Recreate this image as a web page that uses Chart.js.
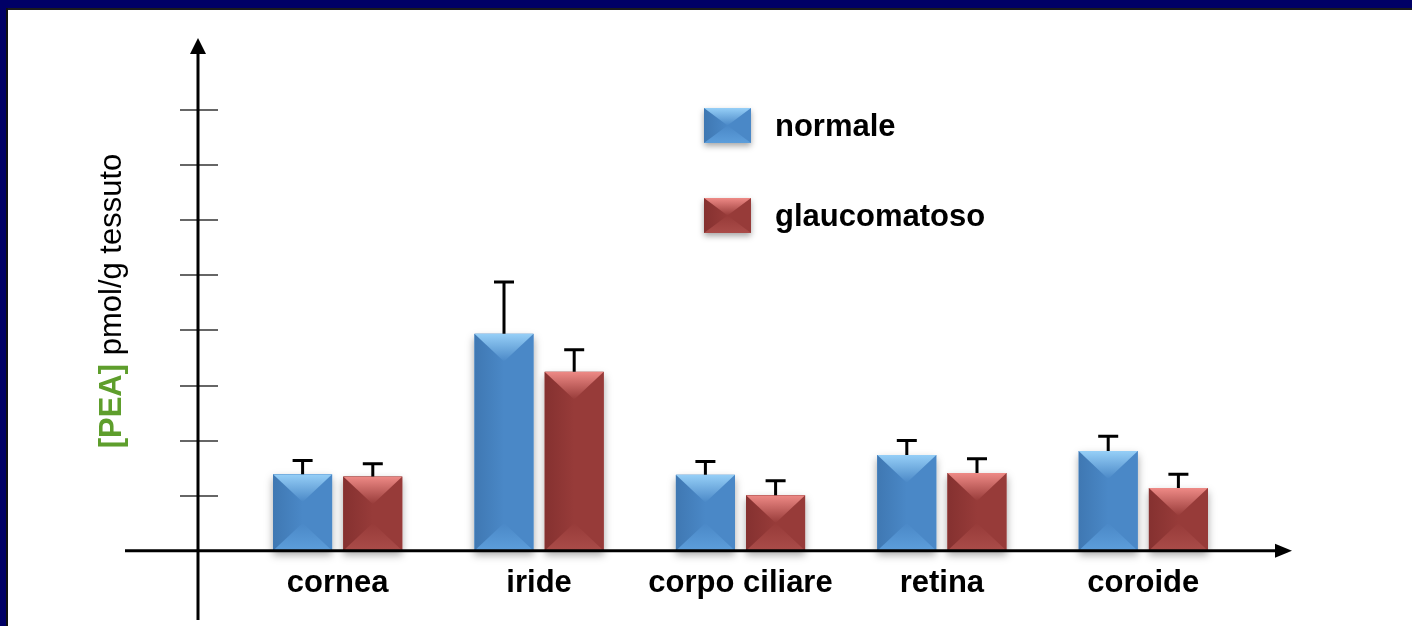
<!DOCTYPE html>
<html>
<head>
<meta charset="utf-8">
<script src="https://cdn.jsdelivr.net/npm/chart.js@4.4.1/dist/chart.umd.min.js"></script>
<style>
  html, body { margin: 0; padding: 0; background: #ffffff; overflow: hidden; }
  #wrap { position: absolute; left: 0; top: 0; width: 1412px; height: 626px; background: #ffffff; }
  .fr { position: absolute; pointer-events: none; }
</style>
</head>
<body>
<div id="wrap"><canvas id="c"></canvas></div>
<div class="fr" style="left:0;top:0;width:1412px;height:8px;background:#000066;"></div>
<div class="fr" style="left:6px;top:8px;width:1406px;height:2px;background:#1c1c1c;"></div>
<div class="fr" style="left:0;top:0;width:6px;height:626px;background:#000066;"></div>
<div class="fr" style="left:6px;top:8px;width:2px;height:618px;background:#111111;"></div>
<script>
// ---- data ----
const categories = ['cornea', 'iride', 'corpo ciliare', 'retina', 'coroide'];
const seriesNames = ['normale', 'glaucomatoso'];
const normale = [1.39, 3.94, 1.38, 1.74, 1.81];
const glaucomatoso = [1.35, 3.25, 1.01, 1.41, 1.14];
const errNormale = [0.25, 0.94, 0.24, 0.26, 0.27];
const errGlaucomatoso = [0.23, 0.40, 0.26, 0.26, 0.25];
const yMin = 0, yMax = 8, yStep = 1;
const yTitleBold = '[PEA]';
const yTitleRest = ' pmol/g tessuto';

// ---- styles ----
const FONT = '"Liberation Sans", Arial, Helvetica, sans-serif';
const palettes = [
  { base: '#4a88c7', dark: '#3e76b0', light: '#96cff7', bottom: '#5d9edb' },
  { base: '#973b39', dark: '#83302f', light: '#ee8a86', bottom: '#aa4c49' }
];
const errors = [errNormale, errGlaucomatoso];
const AXIS_X = 198;

function bevel(ctx, left, top, right, bottom, pal) {
  const w = right - left, h = bottom - top, cx = (left + right) / 2;
  if (h <= 0) return;
  ctx.save();
  ctx.beginPath(); ctx.rect(left, top, w, h); ctx.clip();
  ctx.fillStyle = pal.base; ctx.fillRect(left, top, w, h);
  const g1 = ctx.createLinearGradient(left, 0, cx, 0);
  g1.addColorStop(0, pal.dark); g1.addColorStop(1, pal.base);
  ctx.globalAlpha = 0.9;
  ctx.fillStyle = g1; ctx.fillRect(left, top, w / 2, h);
  ctx.globalAlpha = 1;
  const d = Math.min(w * 0.47, h * 0.5);
  const g3 = ctx.createLinearGradient(0, bottom - d, 0, bottom);
  g3.addColorStop(0, pal.base); g3.addColorStop(1, pal.bottom);
  ctx.beginPath(); ctx.moveTo(left, bottom); ctx.lineTo(right, bottom); ctx.lineTo(cx, bottom - d); ctx.closePath();
  ctx.fillStyle = g3; ctx.fill();
  const g2 = ctx.createLinearGradient(0, top, 0, top + d);
  g2.addColorStop(0, pal.light); g2.addColorStop(1, pal.base);
  ctx.beginPath(); ctx.moveTo(left, top); ctx.lineTo(right, top); ctx.lineTo(cx, top + d); ctx.closePath();
  ctx.fillStyle = g2; ctx.fill();
  ctx.restore();
}

const decoPlugin = {
  id: 'deco',
  beforeDatasetsDraw(chart) {
    const ctx = chart.ctx;
    ctx.save();
    chart.data.datasets.forEach((ds, di) => {
      chart.getDatasetMeta(di).data.forEach(el => {
        const p = el.getProps(['x', 'y', 'base', 'width'], true);
        ctx.shadowColor = 'rgba(0,0,0,0.35)';
        ctx.shadowBlur = 8; ctx.shadowOffsetY = 4;
        ctx.fillStyle = '#ffffff';
        ctx.fillRect(p.x - p.width / 2, p.y, p.width, p.base - p.y);
      });
    });
    ctx.restore();
  },
  afterDatasetsDraw(chart) {
    const ctx = chart.ctx;
    const ys = chart.scales.y;
    chart.data.datasets.forEach((ds, di) => {
      const meta = chart.getDatasetMeta(di);
      meta.data.forEach((el, i) => {
        const p = el.getProps(['x', 'y', 'base', 'width'], true);
        bevel(ctx, p.x - p.width / 2, p.y, p.x + p.width / 2, p.base, palettes[di]);
      });
    });
    // error bars
    ctx.save();
    ctx.strokeStyle = '#000'; ctx.lineWidth = 3; ctx.lineCap = 'butt';
    chart.data.datasets.forEach((ds, di) => {
      const meta = chart.getDatasetMeta(di);
      meta.data.forEach((el, i) => {
        const v = ds.data[i], e = errors[di][i];
        const yTop = ys.getPixelForValue(v + e);
        const yBar = ys.getPixelForValue(v);
        ctx.beginPath();
        ctx.moveTo(el.x, yBar); ctx.lineTo(el.x, yTop);
        ctx.moveTo(el.x - 10, yTop); ctx.lineTo(el.x + 10, yTop);
        ctx.stroke();
      });
    });
    ctx.restore();
    // axes
    const y0 = ys.getPixelForValue(yMin);
    ctx.save();
    ctx.strokeStyle = '#666'; ctx.lineWidth = 2;
    ys.ticks.forEach(t => {
      if (t.value <= yMin) return;
      const yy = Math.round(ys.getPixelForValue(t.value));
      ctx.beginPath(); ctx.moveTo(AXIS_X - 18, yy); ctx.lineTo(AXIS_X + 20, yy); ctx.stroke();
    });
    ctx.strokeStyle = '#000'; ctx.fillStyle = '#000'; ctx.lineWidth = 3;
    ctx.beginPath(); ctx.moveTo(125, y0); ctx.lineTo(1278, y0); ctx.stroke();
    ctx.beginPath(); ctx.moveTo(1292, y0); ctx.lineTo(1275, y0 - 7); ctx.lineTo(1275, y0 + 7); ctx.closePath(); ctx.fill();
    ctx.beginPath(); ctx.moveTo(AXIS_X, 620); ctx.lineTo(AXIS_X, 52); ctx.stroke();
    ctx.beginPath(); ctx.moveTo(AXIS_X, 38); ctx.lineTo(AXIS_X - 8, 54); ctx.lineTo(AXIS_X + 8, 54); ctx.closePath(); ctx.fill();
    ctx.restore();
    // y title
    ctx.save();
    ctx.translate(121, 301);
    ctx.rotate(-Math.PI / 2);
    ctx.textBaseline = 'alphabetic';
    ctx.font = 'bold 31px ' + FONT;
    const wb = ctx.measureText(yTitleBold).width;
    ctx.font = '31px ' + FONT;
    const wr = ctx.measureText(yTitleRest).width;
    const x0 = -(wb + wr) / 2;
    ctx.font = 'bold 31px ' + FONT; ctx.fillStyle = '#5e9e2c';
    ctx.fillText(yTitleBold, x0, 0);
    ctx.font = '31px ' + FONT; ctx.fillStyle = '#000';
    ctx.fillText(yTitleRest, x0 + wb, 0);
    ctx.restore();
    // legend
    ctx.save();
    const legY = [108, 198];
    chart.data.datasets.forEach((ds, di) => {
      const bx = 704, by = legY[di];
      ctx.save();
      ctx.shadowColor = 'rgba(0,0,0,0.35)'; ctx.shadowBlur = 6; ctx.shadowOffsetY = 3;
      ctx.fillStyle = '#fff'; ctx.fillRect(bx, by, 47, 35);
      ctx.restore();
      bevel(ctx, bx, by, bx + 47, by + 35, palettes[di]);
      ctx.font = 'bold 31px ' + FONT; ctx.fillStyle = '#000';
      ctx.textBaseline = 'middle';
      ctx.fillText(ds.label, 775, by + 19);
    });
    ctx.restore();
  }
};

new Chart(document.getElementById('c'), {
  type: 'bar',
  data: {
    labels: categories,
    datasets: [
      { label: seriesNames[0], data: normale, backgroundColor: palettes[0].base, borderWidth: 0 },
      { label: seriesNames[1], data: glaucomatoso, backgroundColor: palettes[1].base, borderWidth: 0 }
    ]
  },
  options: {
    responsive: true,
    maintainAspectRatio: false,
    animation: false,
    categoryPercentage: 0.697,
    barPercentage: 0.843,
    layout: { padding: { left: 237, right: 168, top: 110, bottom: 10 } },
    plugins: { legend: { display: false }, tooltip: { enabled: false } },
    scales: {
      x: {
        display: true,
        grid: { display: false, drawTicks: false },
        border: { display: false },
        ticks: { color: '#000', font: { family: FONT, size: 31, weight: 'bold' }, padding: 14, maxRotation: 0, autoSkip: false }
      },
      y: {
        display: false,
        min: yMin, max: yMax,
        ticks: { stepSize: yStep }
      }
    }
  },
  plugins: [decoPlugin]
});
</script>
</body>
</html>
